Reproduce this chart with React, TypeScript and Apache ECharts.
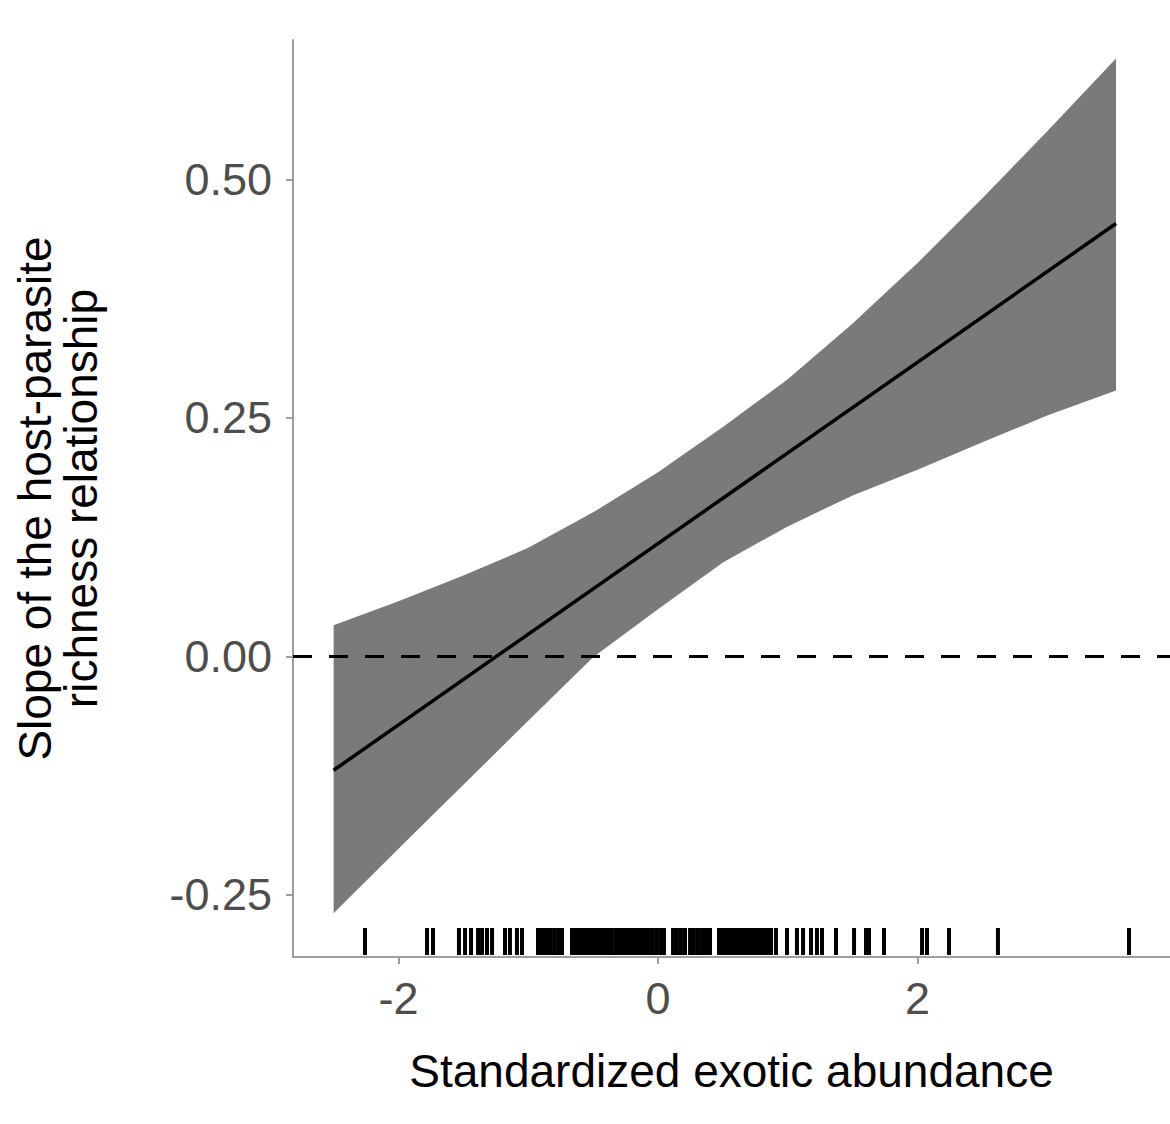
import React, { useEffect, useRef } from "react";
import * as echarts from "echarts";

// Ribbon (confidence band)
const bandX = [-2.5, -2, -1.5, -1, -0.5, 0, 0.5, 1, 1.5, 2, 2.5, 3, 3.53];
const bandUpper = [0.0325, 0.0577, 0.0847, 0.1138, 0.151, 0.193, 0.2405, 0.2906, 0.349, 0.4125, 0.4805, 0.5507, 0.627];
const bandLower = [-0.2694, -0.2018, -0.1348, -0.0677, -0.001, 0.0494, 0.0984, 0.1363, 0.1688, 0.1958, 0.2245, 0.2526, 0.2788];

// Fitted slope line
const lineX = [-2.5, 3.53];
const lineY = [-0.1195, 0.454];

// Rug of observed standardized exotic abundance
const rugValues = [
  -2.258, -1.78, -1.734, -1.534, -1.487, -1.441, -1.387, -1.356, -1.318, -1.279,
  -1.179, -1.141, -1.087, -1.048, -0.925, -0.894, -0.871, -0.848, -0.825, -0.794,
  -0.763, -0.74, -0.663, -0.64, -0.617, -0.593, -0.57, -0.547, -0.524, -0.501,
  -0.47, -0.447, -0.424, -0.401, -0.378, -0.355, -0.324, -0.301, -0.277, -0.254,
  -0.231, -0.208, -0.185, -0.162, -0.139, -0.116, -0.092, -0.062, -0.039, -0.008,
  0.023, 0.046, 0.116, 0.146, 0.177, 0.208, 0.247, 0.277, 0.308, 0.339, 0.37,
  0.401, 0.47, 0.493, 0.516, 0.539, 0.563, 0.586, 0.609, 0.632, 0.655, 0.678,
  0.701, 0.724, 0.748, 0.771, 0.794, 0.817, 0.84, 0.871, 0.909, 0.994, 1.071,
  1.118, 1.179, 1.225, 1.264, 1.372, 1.511, 1.603, 1.626, 1.742, 2.035, 2.073,
  2.243, 2.62, 3.63,
];

const xTicks = [-2, 0, 2];
const yTicks = [-0.25, 0, 0.25, 0.5];
const xMin = -2.813;
const xMax = 3.946;
const yMin = -0.3154;
const yMax = 0.6465;
const refLineY = 0;

const xTitle = "Standardized exotic abundance";
const yTitle = "Slope of the host-parasite\nrichness relationship";

const FONT = "'Liberation Sans', Arial, Helvetica, sans-serif";
const AXIS_GREY = "#9e9e9e";

export default function App() {
  const ref = useRef<HTMLDivElement>(null);

  useEffect(() => {
    if (!ref.current) return;
    const chart = echarts.init(ref.current, undefined, { renderer: "svg" });

    const bandData = bandX.map((x, i) => [x, bandLower[i], bandUpper[i]]);

    chart.setOption({
      animation: false,
      backgroundColor: "#ffffff",
      textStyle: { fontFamily: FONT },
      grid: { left: 293, right: 0, top: 40, bottom: 167, containLabel: false },
      xAxis: {
        type: "value",
        min: xMin,
        max: xMax,
        name: xTitle,
        nameLocation: "middle",
        nameGap: 91,
        nameTextStyle: { fontSize: 46, color: "#000", fontFamily: FONT },
        axisLine: { show: true, onZero: false, lineStyle: { color: AXIS_GREY, width: 2 } },
        axisTick: { show: true, length: 7, customValues: xTicks, lineStyle: { color: AXIS_GREY, width: 2 } },
        axisLabel: {
          customValues: xTicks,
          fontSize: 45,
          color: "#4d4d4d",
          margin: 19,
          fontFamily: FONT,
          formatter: (v: number) => (v < 0 ? "-" + Math.abs(v) : String(v)),
        },
        splitLine: { show: false },
      },
      yAxis: {
        type: "value",
        min: yMin,
        max: yMax,
        name: yTitle,
        nameLocation: "middle",
        nameRotate: 90,
        nameGap: 189,
        nameTextStyle: { fontSize: 46, color: "#000", fontFamily: FONT, lineHeight: 46, align: "center" },
        axisLine: { show: true, onZero: false, lineStyle: { color: AXIS_GREY, width: 2 } },
        axisTick: { show: true, length: 7, customValues: yTicks, lineStyle: { color: AXIS_GREY, width: 2 } },
        axisLabel: {
          customValues: yTicks,
          fontSize: 45,
          color: "#4d4d4d",
          margin: 21,
          fontFamily: FONT,
          formatter: (v: number) => v.toFixed(2),
        },
        splitLine: { show: false },
      },
      series: [
        {
          type: "custom",
          name: "band",
          data: bandData,
          encode: { x: 0, y: [1, 2] },
          renderItem: (params: any, api: any) => {
            if (params.dataIndex !== 0) return null;
            const upper = bandData.map((d) => api.coord([d[0], d[2]]));
            const lower = bandData.map((d) => api.coord([d[0], d[1]])).reverse();
            return {
              type: "polygon",
              shape: { points: upper.concat(lower) },
              style: { fill: "#7a7a7a", stroke: "none" },
            };
          },
          z: 1,
        },
        {
          type: "line",
          name: "fit",
          data: lineX.map((x, i) => [x, lineY[i]]),
          showSymbol: false,
          symbol: "none",
          lineStyle: { color: "#000", width: 3.5 },
          z: 3,
          markLine: {
            silent: true,
            symbol: "none",
            label: { show: false },
            lineStyle: { color: "#000", width: 3, type: [19, 17] },
            data: [{ yAxis: refLineY }],
          },
        },
        {
          type: "custom",
          name: "rug",
          data: rugValues.map((v) => [v]),
          encode: { x: 0 },
          renderItem: (params: any, api: any) => {
            const p = api.coord([api.value(0), 0]);
            const cs = params.coordSys;
            const bottom = cs.y + cs.height;
            return {
              type: "rect",
              shape: { x: p[0] - 2, y: bottom - 29, width: 4, height: 27 },
              style: { fill: "#000" },
            };
          },
          z: 2,
        },
      ],
    });

    return () => chart.dispose();
  }, []);

  return (
    <div
      ref={ref}
      style={{ position: "absolute", left: 0, top: 0, width: 1170, height: 1124, background: "#fff" }}
    />
  );
}
